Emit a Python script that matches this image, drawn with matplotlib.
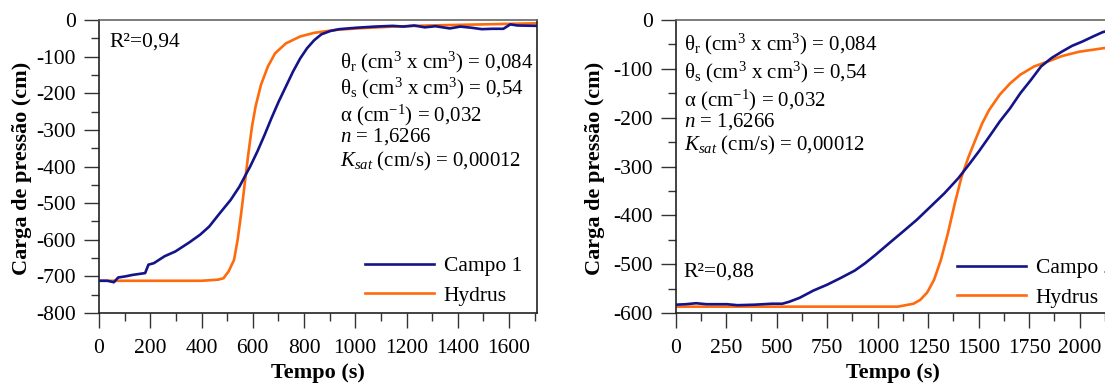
import matplotlib
matplotlib.use("Agg")
import matplotlib.pyplot as plt
from matplotlib.ticker import MultipleLocator, FixedLocator

plt.rcParams['font.family'] = ['Liberation Serif', 'DejaVu Serif']
plt.rcParams['mathtext.fontset'] = 'custom'
plt.rcParams['mathtext.rm'] = 'Liberation Serif'
plt.rcParams['mathtext.it'] = 'Liberation Serif:italic'
plt.rcParams['mathtext.bf'] = 'Liberation Serif:bold'
plt.rcParams['axes.unicode_minus'] = False

# ---- Data: panel 1 ----
campo1_t = [0, 33, 58, 75, 103, 131, 180, 193, 214, 256, 298, 353, 395, 430, 472, 514, 548,
            576, 590, 618, 646, 673, 701, 729, 757, 785, 812, 840, 868, 903, 938, 1007, 1077,
            1146, 1188, 1230, 1271, 1313, 1369, 1410, 1452, 1494, 1536, 1578, 1605, 1633, 1710]
campo1_h = [-712, -712, -716, -703, -700, -696, -691, -668, -664, -645, -632, -607, -586, -564,
            -527, -491, -455, -418, -400, -359, -314, -268, -223, -182, -141, -105, -77, -55,
            -39, -30, -25, -21, -18, -16, -18, -15, -20, -17, -23, -18, -21, -25, -24, -24,
            -12, -15, -16]
hydrus1_t = [0, 200, 400, 465, 486, 506, 527, 541, 555, 569, 583, 597, 611, 632, 659, 687, 729,
             785, 840, 924, 1007, 1146, 1285, 1424, 1563, 1710]
hydrus1_h = [-712, -712, -712, -709, -705, -686, -655, -600, -527, -445, -364, -291, -236, -177,
             -127, -91, -64, -45, -35, -27, -23, -18, -15, -13, -11, -9]

# ---- Data: panel 2 ----
campo2_t = [0, 50, 101, 152, 254, 306, 391, 476, 528, 562, 613, 682, 750, 818, 887, 938, 989,
            1057, 1126, 1194, 1262, 1330, 1399, 1450, 1501, 1552, 1604, 1655, 1706, 1758, 1809,
            1860, 1911, 1962, 2014, 2065, 2113, 2230]
campo2_h = [-583, -582, -580, -582, -582, -584, -583, -581, -581, -577, -569, -554, -542, -528,
            -513, -498, -481, -457, -433, -409, -382, -355, -324, -297, -269, -239, -208, -181,
            -150, -123, -95, -78, -65, -53, -44, -34, -25, -12]
hydrus2_t = [0, 500, 1000, 1100, 1126, 1177, 1211, 1245, 1279, 1313, 1348, 1382, 1416, 1450,
             1484, 1518, 1552, 1604, 1655, 1706, 1775, 1843, 1911, 1997, 2113, 2230]
hydrus2_h = [-587, -587, -587, -587, -585, -581, -573, -558, -532, -491, -436, -375, -320, -280,
             -245, -211, -184, -153, -130, -112, -95, -85, -74, -65, -58, -52]

x2_ticks = [0, 250, 500, 750, 1000, 1250, 1500, 1750, 2000]

params = [r"θ$_\mathrm{r}$ (cm$^3$ x cm$^3$) = 0,084",
          r"θ$_\mathrm{s}$ (cm$^3$ x cm$^3$) = 0,54",
          r"α (cm$^\mathrm{-1}$) = 0,032",
          r"$n$ = 1,6266",
          r"$K_{sat}$ (cm/s) = 0,00012"]

BLUE = '#14148a'
ORANGE = '#ff6a0d'
W, H = 1105, 385
FS = 15.5

fig = plt.figure(figsize=(W / 100, H / 100), dpi=100)

def px_axes(x0, y0, x1, y1):
    return fig.add_axes([x0 / W, 1 - y1 / H, (x1 - x0) / W, (y1 - y0) / H])

ax1 = px_axes(99, 20, 536.7, 313)
ax2 = px_axes(675.7, 20, 1130.2, 313)

def style(ax, xlim, ylim, xmaj, xmin, ymaj, ymin):
    ax.set_xlim(*xlim)
    ax.set_ylim(*ylim)
    ax.xaxis.set_major_locator(MultipleLocator(xmaj))
    ax.xaxis.set_minor_locator(MultipleLocator(xmin))
    ax.yaxis.set_major_locator(MultipleLocator(ymaj))
    ax.yaxis.set_minor_locator(MultipleLocator(ymin))
    ax.tick_params(which='major', direction='out', length=11, width=1.0, color='#333333',
                   labelsize=FS, pad=5.5)
    ax.tick_params(axis='x', which='major', pad=8)
    ax.tick_params(which='minor', direction='out', length=6, width=1.0, color='#333333')
    for s in ax.spines.values():
        s.set_color('#222222')
        s.set_linewidth(1.2)
    ax.spines['top'].set_color('#666666')
    ax.set_xlabel('Tempo (s)', fontsize=16, fontweight='bold')
    ax.set_ylabel('Carga de pressão (cm)', fontsize=16, fontweight='bold')

LEG = dict(bbox_transform=fig.transFigure, frameon=False, fontsize=FS,
           handlelength=3.2, handletextpad=0.45, labelspacing=0.45,
           borderpad=0, borderaxespad=0, loc='upper left')

# Panel 1
ax1.plot(campo1_t, campo1_h, color=BLUE, lw=1.9, label='Campo 1', zorder=3)
ax1.plot(hydrus1_t, hydrus1_h, color=ORANGE, lw=1.9, label='Hydrus', zorder=2)
style(ax1, (0, 1708), (-800, 0), 200, 100, 100, 50)
ax1.xaxis.set_label_coords(0.50, -0.171)
ax1.yaxis.set_label_coords(-0.153, 0.495)
ax1.legend(bbox_to_anchor=(365 / W, 1 - 256 / H), **LEG)

# Panel 2
ax2.plot(campo2_t, campo2_h, color=BLUE, lw=1.9, label='Campo 2', zorder=3)
ax2.plot(hydrus2_t, hydrus2_h, color=ORANGE, lw=1.9, label='Hydrus', zorder=2)
style(ax2, (0, 2250), (-600, 0), 250, 125, 100, 50)
ax2.xaxis.set_major_locator(FixedLocator(x2_ticks))
ax2.xaxis.set_label_coords(0.478, -0.171)
ax2.yaxis.set_label_coords(-0.156, 0.495)
ax2.legend(bbox_to_anchor=(957 / W, 1 - 258 / H), **LEG)

# Annotations
def ftext(x, y, s, fs=15):
    fig.text(x / W, 1 - y / H, s, ha='left', va='center', fontsize=fs)

ftext(109, 42, 'R²=0,94', FS)
ftext(683, 272, 'R²=0,88', FS)

for y, s in zip([62, 88, 115, 137, 161], params):
    ftext(340, y, s)
for y, s in zip([44, 72, 100, 122, 145], params):
    ftext(684, y, s)

fig.savefig('out.png', dpi=100)
